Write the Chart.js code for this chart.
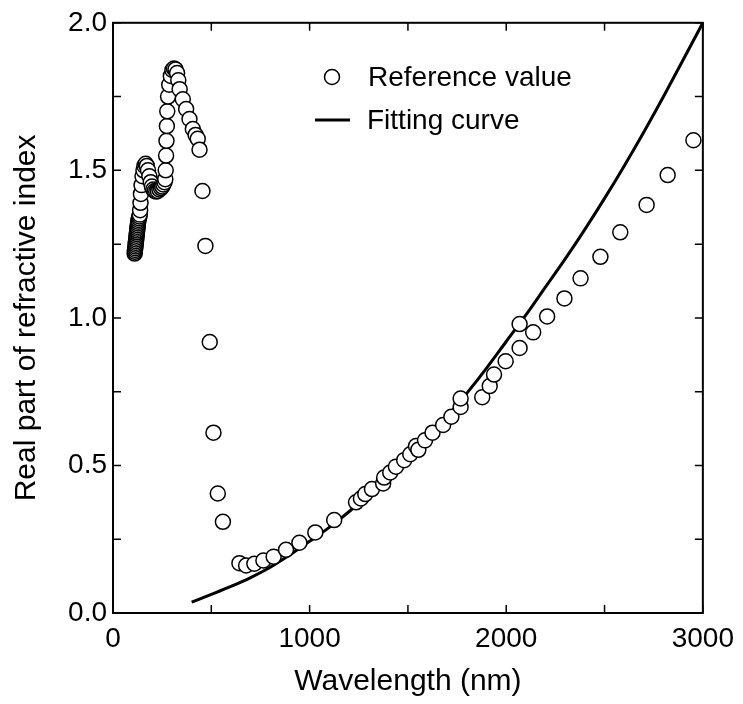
<!DOCTYPE html>
<html>
<head>
<meta charset="utf-8">
<script src="https://cdn.jsdelivr.net/npm/chart.js@4"></script>
<style>
  html, body { margin: 0; padding: 0; background: #fff; }
  #wrap { width: 743px; height: 704px; }
</style>
</head>
<body>
<div id="wrap"><canvas id="chart" width="743" height="704"></canvas></div>
<script>
// Data
const refWavelength = [
    110, 111, 112, 113, 114, 115, 116, 117, 118, 119, 120, 121, 122, 123, 124, 125, 126, 127, 128, 130, 132, 134, 136,
    138, 140, 142, 145, 150, 155, 160, 166, 172, 178,
    185, 192, 198, 205, 212, 220, 228, 236, 244, 250, 256, 262, 266,
    268, 270, 272, 274, 276, 280, 286, 294, 302, 310, 318, 326, 332,
    339, 355, 372, 389, 406, 420, 431, 440, 455, 470, 492, 511, 533, 559,
    643, 677, 719, 765, 817, 880, 948, 1029, 1125, 1236, 1261, 1283, 1317, 1374, 1379, 1410, 1439, 1481, 1512, 1541, 1553,
    1587, 1625, 1679, 1721, 1768, 1768, 1878, 1916, 1938, 1997, 2068, 2068, 2137, 2208, 2296, 2378, 2479, 2580, 2714, 2821, 2952
];
const refIndex = [
    1.218, 1.224, 1.230, 1.236, 1.242, 1.248, 1.254, 1.260, 1.266, 1.272, 1.278, 1.284, 1.290, 1.296, 1.302, 1.308, 1.314, 1.320, 1.326, 1.332, 1.338, 1.344, 1.350,
    1.365, 1.390, 1.420, 1.450, 1.480, 1.500, 1.515, 1.522, 1.515, 1.500,
    1.480, 1.460, 1.445, 1.435, 1.430, 1.428, 1.430, 1.435, 1.440, 1.445, 1.452, 1.460, 1.470,
    1.500, 1.550, 1.600, 1.650, 1.700, 1.750, 1.790, 1.820, 1.840, 1.845, 1.842, 1.830, 1.805,
    1.775, 1.741, 1.708, 1.674, 1.640, 1.620, 1.607, 1.570, 1.430, 1.244, 0.918, 0.611, 0.405, 0.309,
    0.169, 0.161, 0.167, 0.178, 0.191, 0.214, 0.238, 0.273, 0.315, 0.375, 0.388, 0.403, 0.420, 0.439, 0.459, 0.476, 0.496, 0.518, 0.538, 0.566, 0.553,
    0.585, 0.611, 0.637, 0.665, 0.698, 0.727, 0.731, 0.769, 0.808, 0.853, 0.898, 0.979, 0.951, 1.005, 1.066, 1.134, 1.207, 1.290, 1.383, 1.484, 1.602
];
const fitWavelength = [400, 500, 600, 700, 800, 900, 1000, 1100, 1200, 1300, 1400, 1500, 1600, 1700, 1800,
    1900, 2000, 2100, 2200, 2300, 2400, 2500, 2600, 2700, 2800, 2900, 3000];
const fitIndex = [0.037, 0.063, 0.090, 0.120, 0.155, 0.197, 0.243, 0.290, 0.343, 0.400, 0.460, 0.520, 0.590, 0.665, 0.745,
    0.830, 0.920, 1.010, 1.105, 1.200, 1.300, 1.405, 1.515, 1.630, 1.750, 1.875, 2.000];

const xTicks = [0, 1000, 2000, 3000];
const yTicks = [0.0, 0.5, 1.0, 1.5, 2.0];

const FONT = "'Liberation Sans', Arial, sans-serif";

// Frame, inward ticks on all four sides, and the legend
const framePlugin = {
    id: 'frame',
    afterDatasetsDraw(chart) {
        const { ctx, chartArea: a, scales } = chart;
        const len = 8;
        ctx.save();
        ctx.strokeStyle = '#000';
        ctx.lineWidth = 2;
        ctx.strokeRect(a.left, a.top, a.right - a.left, a.bottom - a.top);

        ctx.lineWidth = 1.5;
        ctx.beginPath();
        scales.x.ticks.forEach(t => {
            const px = scales.x.getPixelForValue(t.value);
            ctx.moveTo(px, a.bottom); ctx.lineTo(px, a.bottom - len);
            ctx.moveTo(px, a.top); ctx.lineTo(px, a.top + len);
        });
        scales.y.ticks.forEach(t => {
            const py = scales.y.getPixelForValue(t.value);
            ctx.moveTo(a.left, py); ctx.lineTo(a.left + len, py);
            ctx.moveTo(a.right, py); ctx.lineTo(a.right - len, py);
        });
        ctx.stroke();

        // Legend
        const ref = chart.data.datasets[0];
        const fit = chart.data.datasets[1];
        ctx.font = `28px ${FONT}`;
        ctx.textBaseline = 'middle';
        ctx.textAlign = 'left';

        ctx.beginPath();
        ctx.arc(332, 77, 7.5, 0, Math.PI * 2);
        ctx.fillStyle = '#fff';
        ctx.fill();
        ctx.lineWidth = 1.5;
        ctx.strokeStyle = '#000';
        ctx.stroke();
        ctx.fillStyle = '#000';
        ctx.fillText(ref.label, 368, 78);

        ctx.beginPath();
        ctx.lineWidth = 3;
        ctx.moveTo(315, 120); ctx.lineTo(350, 120);
        ctx.stroke();
        ctx.fillText(fit.label, 367, 121);
        ctx.restore();
    }
};

new Chart(document.getElementById('chart'), {
    type: 'scatter',
    data: {
        datasets: [
            {
                label: 'Reference value',
                data: refWavelength.map((w, i) => ({ x: w, y: refIndex[i] })),
                pointRadius: 7.5,
                pointBackgroundColor: '#fff',
                pointBorderColor: '#000',
                pointBorderWidth: 1.5,
                order: 1
            },
            {
                label: 'Fitting curve',
                type: 'line',
                data: fitWavelength.map((w, i) => ({ x: w, y: fitIndex[i] })),
                borderColor: '#000',
                borderWidth: 3,
                pointRadius: 0,
                fill: false,
                cubicInterpolationMode: 'monotone',
                order: 2
            }
        ]
    },
    options: {
        responsive: false,
        animation: false,
        layout: { padding: { top: 20, right: 37, left: 0, bottom: 0 } },
        plugins: { legend: { display: false }, tooltip: { enabled: false } },
        scales: {
            x: {
                type: 'linear',
                min: 0,
                max: 3000,
                afterFit: s => { s.height = 91; },
                grid: { display: true, drawOnChartArea: false, drawTicks: false },
                border: { display: false },
                ticks: {
                    stepSize: 500,
                    autoSkip: false,
                    maxRotation: 0,
                    padding: 9,
                    color: '#000',
                    font: { family: FONT, size: 28 },
                    callback: v => xTicks.includes(v) ? String(v) : ''
                },
                title: {
                    display: true,
                    text: 'Wavelength (nm)',
                    color: '#000',
                    font: { family: FONT, size: 30 },
                    padding: { top: 0, bottom: 4 }
                }
            },
            y: {
                min: 0,
                max: 2,
                afterFit: s => { s.width = 113; },
                grid: { display: true, drawOnChartArea: false, drawTicks: false },
                border: { display: false },
                ticks: {
                    stepSize: 0.25,
                    autoSkip: false,
                    padding: 6,
                    color: '#000',
                    font: { family: FONT, size: 28 },
                    callback: v => yTicks.some(t => Math.abs(t - v) < 1e-6) ? v.toFixed(1) : ''
                },
                title: {
                    display: true,
                    text: 'Real part of refractive index',
                    color: '#000',
                    font: { family: FONT, size: 30 },
                    padding: { top: 9, bottom: 0 }
                }
            }
        }
    },
    plugins: [framePlugin]
});
</script>
</body>
</html>
